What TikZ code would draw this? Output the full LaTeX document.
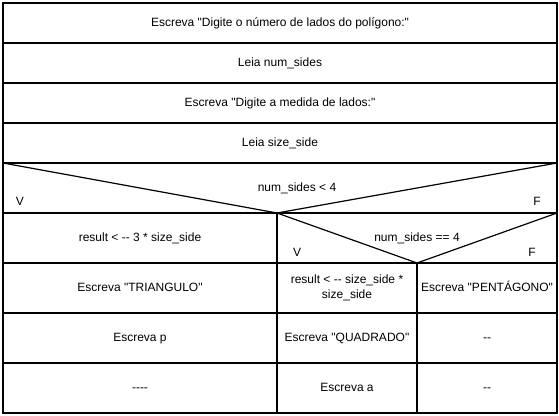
\documentclass[tikz,border=0pt]{standalone}
\usepackage{fontspec}
\setmainfont{Liberation Sans}[Ligatures=TeXOff]
\begin{document}
\begin{tikzpicture}[x=0.75pt,y=-0.75pt,
  thin line/.style={line width=0.9pt},
  thick line/.style={line width=1.6pt},
  cell/.style={draw=none,inner sep=0pt,align=center,font=\fontsize{9}{11}\selectfont},
  line cell/.style={cell,text height=6.6pt,text depth=1.9pt},
  lbl/.style={inner sep=0pt,text height=6.6pt,text depth=1.9pt,font=\fontsize{9}{11}\selectfont}]
\useasboundingbox (0,0) rectangle (559,416);

% sequence rows
\node[line cell] (s1) at (280,23) {Escreva "Digite o número de lados do polígono:"};
\node[line cell] (s2) at (280,63) {Leia num\_sides};
\node[line cell] (s3) at (280,103) {Escreva "Digite a medida de lados:"};
\node[line cell] (s4) at (280,143) {Leia size\_side};

% outer decision
\coordinate (oL) at (3,163);
\coordinate (oR) at (557,163);
\coordinate (oA) at (277,213);
\node[lbl] (c1) at (297,188) {num\_sides < 4};
\node[lbl] (v1) at (20,202) {V};
\node[lbl] (f1) at (537,202) {F};

% inner decision
\coordinate (iL) at (277,213);
\coordinate (iR) at (557,213);
\coordinate (iA) at (417,263);
\node[lbl] (c2) at (417,238) {num\_sides == 4};
\node[lbl] (v2) at (297,253) {V};
\node[lbl] (f2) at (532,253) {F};

% true branch
\node[line cell] (t1) at (140,238) {result < -- 3 * size\_side};
\node[line cell] (t2) at (140,288) {Escreva "TRIANGULO"};
\node[line cell] (t3) at (140,338) {Escreva p};
\node[line cell] (t4) at (140,388) {----};

% inner true branch
\node[cell] (q1) at (347,288) {result < -- size\_side *\\size\_side};
\node[line cell] (q2) at (347,338) {Escreva "QUADRADO"};
\node[line cell] (q3) at (347,388) {Escreva a};

% inner false branch
\node[line cell] (p1) at (487,288) {Escreva "PENTÁGONO"};
\node[line cell] (p2) at (487,338) {--};
\node[line cell] (p3) at (487,388) {--};

% frame and row separators
\draw[thin line] (3,3) rectangle (557,413);
\foreach \y in {43,83,123,163} \draw[thin line] (3,\y) -- (557,\y);
\draw[thin line] (oL) -- (oA) -- (oR);
\draw[thin line] (3,213) -- (557,213);
\draw[thin line] (iL) -- (iA) -- (iR);
\foreach \y in {263,313,363} \draw[thin line] (3,\y) -- (557,\y);

% column separators
\draw[thick line] (oA) -- (277,413);
\draw[thick line] (iA) -- (417,413);
\end{tikzpicture}
\end{document}
